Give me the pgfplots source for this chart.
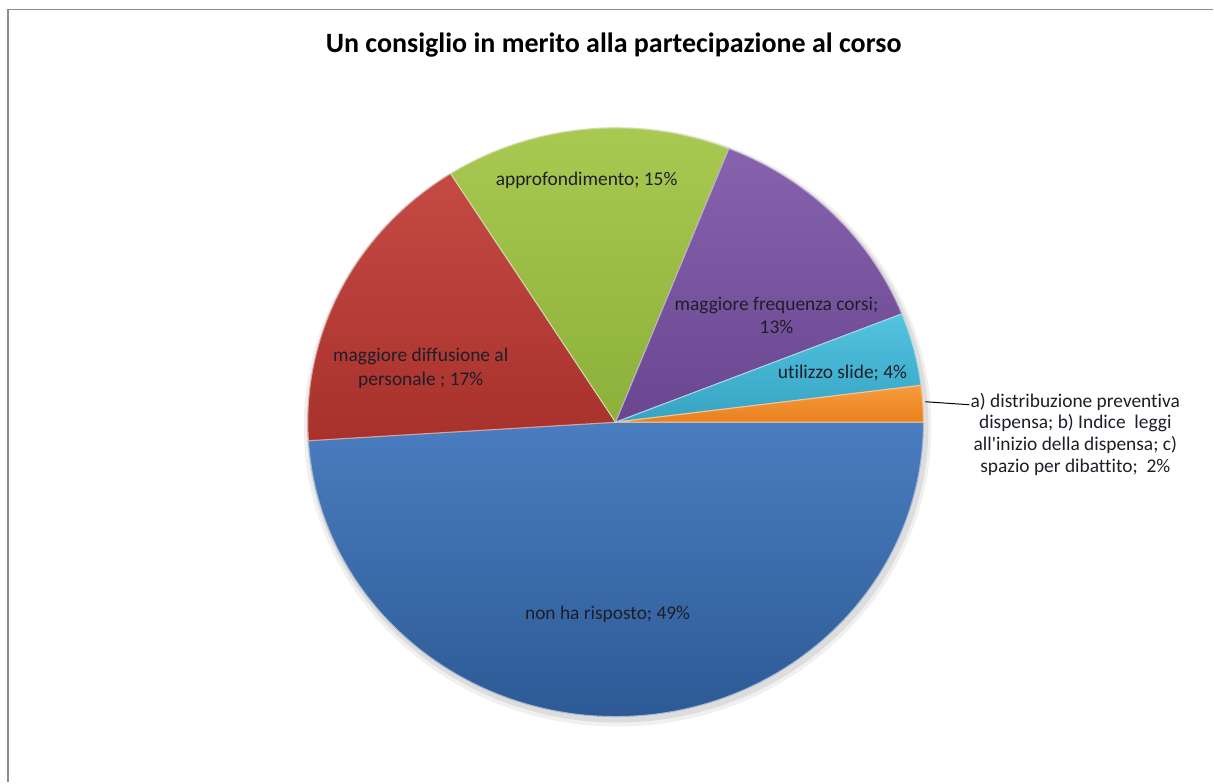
\documentclass[border=0pt]{standalone}
\usepackage{pgfplots}
\pgfplotsset{compat=1.18}
\usepackage{fontspec}
\setmainfont{Carlito}[Ligatures={NoCommon,TeXOff}]
\definecolor{bluT}{HTML}{4A7DC0}\definecolor{bluB}{HTML}{2D5A95}
\definecolor{redT}{HTML}{C54A44}\definecolor{redB}{HTML}{A8312C}
\definecolor{grnT}{HTML}{AACA52}\definecolor{grnB}{HTML}{8CB03A}
\definecolor{purT}{HTML}{8763AE}\definecolor{purB}{HTML}{6A4690}
\definecolor{cyaT}{HTML}{52C3E0}\definecolor{cyaB}{HTML}{36A3C2}
\definecolor{oraT}{HTML}{F89C3E}\definecolor{oraB}{HTML}{E8801E}
\definecolor{txt}{HTML}{1E1E28}
% values (percent): non ha risposto 49, maggiore diffusione 17, approfondimento 15,
% maggiore frequenza corsi 13, utilizzo slide 4, a)...c) 2  (clockwise from 0 deg)
\newcommand{\slice}[4]{%
  \shade[top color=#3, bottom color=#4, draw=white!55!#4, line width=0.5pt]
  (axis cs:616,360.5) -- ++(#1:154pt and 147.25pt)
  arc[start angle=#1, end angle=#2, x radius=154pt, y radius=147.25pt] -- cycle;}
\begin{document}
\begin{tikzpicture}
\begin{axis}[width=607pt,height=391.5pt,scale only axis,
  xmin=0,xmax=1214,ymin=0,ymax=783,hide axis,clip=false]
\path (axis cs:0,0) rectangle (axis cs:1214,783);
\draw[color=black!45,line width=0.8pt] (axis cs:8,0) -- (axis cs:8,773.5) -- (axis cs:1214,773.5);
\node[font=\fontsize{14}{16}\selectfont\bfseries] at (axis cs:614,738) {Un consiglio in merito alla partecipazione al corso};
% shadow
\fill[black,opacity=0.06] (axis cs:618,356) ellipse[x radius=157pt, y radius=150pt];
\fill[black,opacity=0.08] (axis cs:618,357) ellipse[x radius=155.5pt, y radius=148.5pt];
\slice{0}{-49*3.6}{bluT}{bluB}
\slice{-49*3.6}{-66*3.6}{redT}{redB}
\slice{-66*3.6}{-81*3.6}{grnT}{grnB}
\slice{-81*3.6}{-94*3.6}{purT}{purB}
\slice{-94*3.6}{-98*3.6}{cyaT}{cyaB}
\slice{-98*3.6}{-100*3.6}{oraT}{oraB}
\begin{scope}[every node/.style={align=center,text=txt,font=\fontsize{9.7}{11.7}\selectfont}]
\node at (axis cs:587,603) {approfondimento; 15\%};
\node at (axis cs:777,467.5) {maggiore frequenza corsi;\\13\%};
\node at (axis cs:843,410) {utilizzo slide; 4\%};
\node at (axis cs:421,414.5) {maggiore diffusione al\\personale ; 17\%};
\node at (axis cs:608,168) {non ha risposto; 49\%};
\node[font=\fontsize{9.7}{10.85}\selectfont] at (axis cs:1076,348.5) {a) distribuzione preventiva\\dispensa; b) Indice\ \ leggi\\all'inizio della dispensa; c)\\spazio per dibattito;\ \ 2\%};
\end{scope}
\draw[black,line width=0.5pt] (axis cs:926,381) -- (axis cs:970,378);
\end{axis}
\end{tikzpicture}
\end{document}
